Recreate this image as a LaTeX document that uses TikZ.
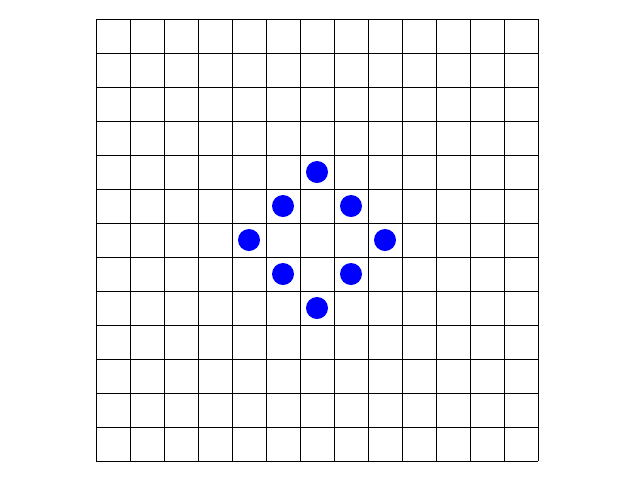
\documentclass[tikz,border=0pt]{standalone}
\begin{document}
\begin{tikzpicture}[x=0.75pt,y=-0.75pt,
  gridline/.style={black,line width=0.5pt},
  dot/.style={circle,fill=blue,inner sep=0pt,minimum size=16.5pt}]
\useasboundingbox (0,0) rectangle (640,480);
\foreach \i in {0,...,13}{
  \draw[gridline] ({96+\i*34},19) -- ({96+\i*34},461);
  \draw[gridline] (96,{19+\i*34}) -- (538,{19+\i*34});
}
\foreach \r/\c/\n in {4/6/a,5/5/b,5/7/c,6/4/d,6/8/e,7/5/f,7/7/g,8/6/h}{
  \node[dot] (\n) at ({96+\c*34+17},{19+\r*34+17}) {};
}
\end{tikzpicture}
\end{document}
